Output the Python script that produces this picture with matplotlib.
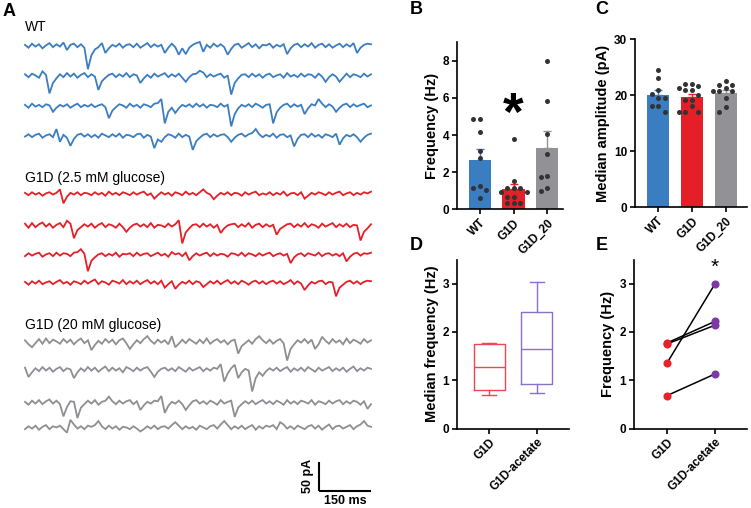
import numpy as np
import matplotlib
matplotlib.use('Agg')
import matplotlib.pyplot as plt

plt.rcParams['font.family'] = ['Liberation Sans', 'DejaVu Sans']

# ---------------- data ----------------
# panel A: sweeps (pA relative to baseline), 100 samples over 1000 ms
wt_traces = [
    [2, -3, 4, -1, 3, -4, 1, 5, -2, 3, -1, 6, -7, 2, 4, -2, 3, -3, -40, -16,
     -6, -2, 5, -12, -4, 2, -1, 4, -3, 2, 3, -2, 4, -3, 1, 5, -2, 3, -1, 2,
     -12, -3, 4, -2, -15, -4, -14, -3, 2, 5, 7, -10, 2, -3, 4, -1, 3, -2, -15, -5,
     2, 4, -3, 1, 5, -2, 3, -4, 2, 1, 4, -3, 2, -1, 3, -14, -4, 2, 4, -2,
     3, -1, 5, -3, 2, 4, -2, 3, -3, 1, 4, -2, 3, -1, 5, -12, -3, 2, 4, 3],
    [3, -2, 4, 1, -3, 8, 2, -30, -12, -4, 3, -2, 5, -1, 4, -3, 2, 5, -2, 3,
     -1, -24, -9, -3, 2, 4, -2, 3, -1, 5, -2, 3, 1, -12, -4, 2, -3, 4, -1, 2,
     5, -2, 3, -1, 4, -3, -10, -2, 3, 4, 9, 6, -2, 3, -1, 2, 4, -3, 1, -32,
     -12, -4, 2, 3, -2, 4, -1, 3, -3, 2, 4, -2, 1, 3, -3, 5, -1, 2, -2, 4,
     -1, 3, 2, -3, 4, -1, -10, -2, 3, -1, -10, -3, 4, -2, 3, 1, -2, 4, -1, 3],
    [2, -3, 4, -1, 2, -2, 3, 1, -10, -3, 2, -1, 3, -3, 1, 4, -2, 2, -1, 3,
     -2, 1, 3, -2, -21, -8, -2, 3, 1, -3, 4, -1, 2, -3, 3, 1, -2, 4, 5, 12,
     -30, -10, -3, -12, -4, 2, -1, 3, -2, 4, -1, 3, -3, 2, 1, -2, 4, -1, 2, -35,
     -14, -4, 2, -1, 3, -2, 4, 1, -3, 2, 3, -30, -11, -3, 2, 4, -2, 3, -1, 2,
     -14, -4, 3, 1, 12, 4, -2, 3, -1, -10, -3, 2, 4, -2, 3, -1, 2, 4, -2, 1],
    [-1, 3, -2, 2, 4, -3, 1, 3, -2, 12, -10, 2, -3, -17, -5, 2, 4, -1, 3, -2,
     2, -3, 4, 1, -2, 3, -1, 4, -3, 2, 1, -2, 3, 4, -3, 2, -1, -21, -6, -10,
     -2, 3, 1, -3, 4, -2, 2, -1, -24, -9, -3, 2, 4, -2, 3, -1, 2, 3, -2, -10,
     -3, 2, 4, -1, 3, 5, 12, 3, -2, 2, -1, 4, -3, 2, 3, -2, 1, -18, -5, 2,
     3, -2, 4, -1, 2, -3, 3, 1, -2, 4, -15, -4, 2, -1, 3, -2, -10, -3, 2, 4],
]
g1d_traces = [
    [2, -2, 3, -1, 2, -3, 1, 3, -1, 2, 8, -16, -5, 2, -1, 3, -2, 2, 1, -2,
     3, -1, 2, -3, 4, -1, 2, -2, 3, 1, -2, 3, -1, 2, 4, -2, 1, -8, -2, 3,
     -1, 2, -3, 3, 1, -2, 4, -1, 2, -2, 3, 8, 2, -1, -9, -3, 2, -1, 3, -2,
     2, 1, -3, 3, -1, 2, 4, -2, 1, -1, 3, -2, 2, -1, 4, -3, 1, 2, -2, 3,
     -8, -3, 2, -1, 3, 1, -2, 3, -1, 2, 4, -2, 1, 3, -2, 2, -1, 3, 1, 4],
    [4, -3, 5, -2, 3, 6, -1, 4, -3, 2, 5, -2, 9, 4, -21, -7, -2, 3, -1, 4,
     -3, 2, 5, -2, 3, 1, -3, 4, -2, -10, -3, 2, 4, -1, 3, -2, 5, -3, 2, 1,
     -2, 4, -1, 3, 10, -30, -11, -4, 2, 3, -2, 4, -1, 3, -3, 2, -12, -4, 1, 3,
     4, -2, 3, -1, 5, -3, 2, 4, -2, 3, -1, 2, -15, -5, -1, 3, 4, -2, 3, -1,
     5, -2, 3, 1, -3, 4, -1, 2, 5, -2, 3, -1, 4, -2, 2, 1, -25, -10, -4, 3],
    [-2, 3, -1, 2, 4, -3, 1, 3, -2, 4, -1, 3, 2, -2, 4, 5, 10, 2, -28, -10,
     -4, 1, 3, -2, 2, -1, 4, -3, 2, 1, 3, -2, 4, -1, 2, 3, -2, 1, 4, -1,
     2, -3, 5, 1, 3, -2, 4, -9, -2, 3, -1, 2, 4, -2, 3, -1, 2, 1, -3, 3,
     2, -1, 4, -2, 3, 1, -2, 3, -1, 2, 4, -2, 1, 3, -1, 2, -14, -4, 1, 3,
     -2, 3, 1, -1, 4, -2, 2, 3, -1, 2, -2, 3, -11, -3, 2, 4, -1, 3, 2, 4],
    [2, -3, 3, -1, 4, -2, 1, 3, -2, 2, 5, -1, 2, -3, 3, 1, -2, 4, -1, 3,
     6, -2, 3, 1, -3, 4, 2, -1, 5, -2, 3, -1, 4, -2, 2, 5, -1, 3, -2, 4,
     -8, -2, 3, -10, -3, 2, -1, 4, -2, 3, 1, -7, -2, 3, -1, 4, -2, 2, 5, -1,
     3, -2, 4, 1, -3, 2, 4, -1, 3, -2, 2, 4, -1, 3, -2, 1, 5, -2, 3, -1,
     -12, -4, 2, -1, 3, 4, -2, 2, 1, -23, -8, -3, 2, 4, -1, 3, -2, 2, 4, 3],
]
g1d20_traces = [
    [3, -4, -9, -2, 5, -3, 6, -2, 4, 1, -3, 5, -1, 4, -4, 2, 6, -2, 3, -14,
     -5, 2, -3, 5, -1, 4, -4, 3, 6, -2, -12, -4, 3, -2, 5, 10, 2, -3, 4, -1,
     3, -4, 10, -9, -3, 4, -2, 5, 1, -3, 4, -2, 6, -3, 2, 5, -1, 3, -4, 2,
     4, -20, -7, -2, 3, -3, 5, 10, 3, -2, 4, -3, 2, 5, -2, -32, -12, -4, 3, -1,
     5, -2, 4, -12, -4, 9, 2, -3, 5, -1, 3, -4, 6, -2, 4, 1, -3, 5, -1, 3],
    [4, -12, -4, 3, -2, 5, -1, 4, -3, 2, 5, -2, 3, 1, -14, -4, 3, -2, 5, -1,
     4, -3, 2, 6, -2, 4, -1, 3, -4, 5, 2, -2, 4, -1, 3, 5, -3, -12, -3, 2,
     4, -1, 3, -2, 5, 1, -3, 4, -1, 2, 5, -2, 3, -1, 4, 2, 10, -20, -6, 3,
     9, -14, -4, 2, -1, -37, -14, -4, -10, -2, 3, -1, 4, -2, 2, 5, -3, 3, -1, 4,
     -2, 5, 1, -3, 4, -1, 2, 5, -2, 3, -1, 4, -3, 2, 6, -2, 3, -1, 4, 2],
    [2, -3, 4, -1, 5, -2, 3, 6, -1, 4, -2, -23, -7, 3, 2, -26, -8, -2, 4, -1,
     5, -3, 2, 4, 11, 3, -2, 4, -1, 3, 5, -2, 3, -12, -4, 2, -1, 4, 3, 12,
     -17, -5, 2, -1, 4, -2, -12, -4, 3, 5, -1, 3, -2, 4, 1, -3, 5, -1, 2, 4,
     -24, -8, -2, 3, -1, 4, -2, 2, 5, -1, 3, -2, 4, 1, -3, 5, -1, 3, -2, 4,
     2, -1, 5, -3, 3, 1, -2, 4, -1, 3, 5, -2, 3, -1, 4, 2, -3, 3, -10, -2],
    [-2, 3, -1, 4, -3, 2, 5, -2, 3, 1, 4, -2, -8, 14, 6, -1, 3, -2, 4, 2,
     5, 12, 3, -2, 4, -1, 3, -3, 2, 1, -2, 3, -1, -6, -2, 3, -1, 4, -2, 2,
     3, -1, 5, 10, 4, -2, 3, -1, 2, -3, 4, 1, -2, 3, 5, -1, 6, 12, 5, -2,
     3, -1, 4, -2, 2, 5, -3, 3, -1, 4, 2, 5, -2, 10, 6, -1, 3, -2, 4, 1,
     -2, 3, 5, -1, 4, -3, 2, 6, -2, 3, 4, -1, 2, 5, -2, 3, 6, 12, 4, 2],
]
sweep_ms = 1000
group_names = ['WT', 'G1D (2.5 mM glucose)', 'G1D (20 mM glucose)']

# panel B: frequency (Hz) per cell
bar_groups = ['WT', 'G1D', 'G1D_20']
freq_wt = [4.87, 4.87, 4.17, 3.15, 2.78, 1.28, 1.18, 1.07, 0.62]
freq_g1d = [3.77, 1.55, 1.18, 1.18, 1.18, 0.95, 0.95, 0.68, 0.68, 0.36, 0.36, 0.36]
freq_g1d20 = [8.0, 5.83, 4.07, 3.0, 1.78, 1.75, 1.15, 0.98]

# panel C: median amplitude (pA) per cell
amp_wt = [24.5, 23.2, 20.95, 20.2, 19.6, 19.6, 18.1, 18.1, 17.1]
amp_g1d = [22.0, 22.0, 21.7, 21.4, 20.9, 20.9, 20.1, 19.2, 19.2, 18.1, 17.1, 17.1, 17.1]
amp_g1d20 = [22.6, 21.85, 21.85, 21.4, 20.8, 20.8, 20.8, 19.5, 18.0, 17.1]

# panel D: box summaries of median frequency (Hz)
box_groups = ['G1D', 'G1D-acetate']
box_low = [0.69, 0.74]
box_q1 = [0.79, 0.93]
box_med = [1.28, 1.65]
box_q3 = [1.76, 2.42]
box_high = [1.78, 3.03]

# panel E: paired frequency (Hz)
pair_g1d = [1.35, 1.77, 1.75, 0.68]
pair_acetate = [3.0, 2.22, 2.14, 1.13]

# ---------------- styles ----------------
BLUE = '#3a7dc0'
RED = '#e41f27'
GREY = '#929296'
TRACE_GREY = '#8e8e93'
DOT = '#333333'

W, H = 751, 508
fig = plt.figure(figsize=(W / 100, H / 100), dpi=100)


def px_axes(l, t, r, b):
    return fig.add_axes([l / W, 1 - b / H, (r - l) / W, (b - t) / H])


def style_axes(ax):
    for s in ['top', 'right']:
        ax.spines[s].set_visible(False)
    for s in ['left', 'bottom']:
        ax.spines[s].set_linewidth(1.2)
    ax.tick_params(width=1.2, length=3.5, labelsize=8.5, pad=2)
    for lab in ax.get_yticklabels():
        lab.set_fontweight('bold')


def xlabels(ax, labels):
    ax.set_xticks(range(len(labels)))
    ax.set_xticklabels(labels, rotation=45, ha='right', rotation_mode='anchor',
                       fontweight='bold', fontsize=8.5)


def swarm(ax, x0, vals, step_px=6.5, max_k=2):
    # spread dots sideways (in pixels) so they don't sit on top of each other
    tr = ax.transData
    placed = []
    xs = []
    ks = sorted(range(-max_k, max_k + 1), key=abs)
    for v in vals:
        cx, cy = tr.transform((x0, v))
        best, best_d = cx, -1
        for k in ks:
            px = cx + k * step_px
            d = min([np.hypot(px - a, cy - b) for a, b in placed] or [99])
            if d >= step_px * 0.9:
                best = px
                break
            if d > best_d:
                best, best_d = px, d
        placed.append((best, cy))
        xs.append(tr.inverted().transform((best, cy))[0])
    return xs


# ---------------- panel A ----------------
PX_PER_MS = 346 / sweep_ms
PA_PER_PX = 50 / 29
X0 = 25
axA = px_axes(0, 0, 380, H)
axA.set_xlim(-X0 / PX_PER_MS, (380 - X0) / PX_PER_MS)
axA.set_ylim(-H * PA_PER_PX, 0)
axA.axis('off')

rows = [(wt_traces, BLUE, [46, 76, 106, 136]),
        (g1d_traces, RED, [194, 226, 255, 283]),
        (g1d20_traces, TRACE_GREY, [342, 370, 403, 428])]
label_y = [27, 178, 325]
for (traces, col, bases), name, ly in zip(rows, group_names, label_y):
    for tr_vals, base in zip(traces, bases):
        t = np.linspace(0, sweep_ms, len(tr_vals))
        axA.plot(t, np.array(tr_vals) - base * PA_PER_PX, color=col, lw=1.3,
                 solid_joinstyle='miter')
    axA.text(0, -ly * PA_PER_PX, name, fontsize=10, va='center', ha='left')

# scale bar
sb_y = -490.5 * PA_PER_PX
axA.plot([850, 1000], [sb_y, sb_y], color='black', lw=1.5, solid_capstyle='butt')
axA.plot([850, 850], [sb_y, sb_y + 50], color='black', lw=1.5, solid_capstyle='butt')
axA.text(925, sb_y - 11 * PA_PER_PX, '150 ms', ha='center', va='center',
         fontsize=9, fontweight='bold')
axA.text(850 - 11 / PX_PER_MS, sb_y + 25, '50 pA', ha='center', va='center',
         rotation=90, fontsize=9, fontweight='bold')

# ---------------- panel B ----------------
axB = px_axes(457, 42, 563, 209.5)
axB.set_xlim(-0.68, 2.47)
axB.set_ylim(0, 9)
freq_sets = [freq_wt, freq_g1d, freq_g1d20]
for i, (vals, col) in enumerate(zip(freq_sets, [BLUE, RED, GREY])):
    m = np.mean(vals)
    sem = np.std(vals, ddof=1) / np.sqrt(len(vals))
    axB.bar(i, m, width=0.66, color=col, zorder=1)
    axB.errorbar(i, m, yerr=[[0], [sem]], color=col, capsize=3, lw=1, zorder=1)
    axB.scatter(swarm(axB, i, vals), vals, s=13, color=DOT, zorder=3, linewidths=0)
axB.set_yticks([0, 2, 4, 6, 8])
style_axes(axB)
xlabels(axB, bar_groups)
axB.set_ylabel('Frequency (Hz)', fontsize=10.5, fontweight='bold', labelpad=3)
axB.text(1, 5.0, '*', ha='center', va='center', fontsize=38, fontweight='bold')

# ---------------- panel C ----------------
axC = px_axes(635, 39.5, 747, 207.5)
axC.set_xlim(-0.68, 2.63)
axC.set_ylim(0, 30)
amp_sets = [amp_wt, amp_g1d, amp_g1d20]
for i, (vals, col) in enumerate(zip(amp_sets, [BLUE, RED, GREY])):
    m = np.mean(vals)
    sem = np.std(vals, ddof=1) / np.sqrt(len(vals))
    axC.bar(i, m, width=0.66, color=col, zorder=1)
    axC.errorbar(i, m, yerr=[[0], [sem]], color=col, capsize=3, lw=1, zorder=1)
    axC.scatter(swarm(axC, i, vals), vals, s=13, color=DOT, zorder=3, linewidths=0)
axC.set_yticks([0, 10, 20, 30])
style_axes(axC)
xlabels(axC, bar_groups)
axC.set_ylabel('Median amplitude (pA)', fontsize=10.5, fontweight='bold', labelpad=3)

# ---------------- panel D ----------------
axD = px_axes(457, 259.5, 569.5, 428.5)
stats = [dict(whislo=lo, q1=a, med=m, q3=b, whishi=hi, fliers=[])
         for lo, a, m, b, hi in zip(box_low, box_q1, box_med, box_q3, box_high)]
box_cols = ['#ee4652', '#8a70c8']
for i, (st, col) in enumerate(zip(stats, box_cols)):
    axD.bxp([st], positions=[i], widths=0.65, capwidths=0.3, showfliers=False,
            boxprops=dict(color=col, lw=1), medianprops=dict(color=col, lw=1),
            whiskerprops=dict(color=col, lw=1), capprops=dict(color=col, lw=1))
axD.set_xlim(-0.68, 1.69)
axD.set_ylim(0, 3.5)
axD.set_yticks([0, 1, 2, 3])
style_axes(axD)
xlabels(axD, box_groups)
axD.set_ylabel('Median frequency (Hz)', fontsize=10.5, fontweight='bold', labelpad=3)

# ---------------- panel E ----------------
axE = px_axes(633.5, 259.5, 747, 428.5)
for a, b in zip(pair_g1d, pair_acetate):
    axE.plot([0, 1], [a, b], color='black', lw=1.1, zorder=1)
axE.scatter([0] * len(pair_g1d), pair_g1d, s=34, color='#e8222a', zorder=3, linewidths=0)
axE.scatter([1] * len(pair_acetate), pair_acetate, s=34, color='#7d3aa6', zorder=3, linewidths=0)
axE.set_xlim(-0.69, 1.66)
axE.set_ylim(0, 3.5)
axE.set_yticks([0, 1, 2, 3])
style_axes(axE)
xlabels(axE, box_groups)
axE.set_ylabel('Frequency (Hz)', fontsize=10.5, fontweight='bold', labelpad=3)
axE.text(1, 3.33, '*', ha='center', va='center', fontsize=15)

# panel letters
for letter, (x, y) in zip('ABCDE', [(9, 11), (416, 10), (602, 10), (416, 246), (602, 246)]):
    fig.text(x / W, 1 - y / H, letter, fontsize=13, fontweight='bold', ha='center', va='center')

fig.savefig('out.png', dpi=100)
